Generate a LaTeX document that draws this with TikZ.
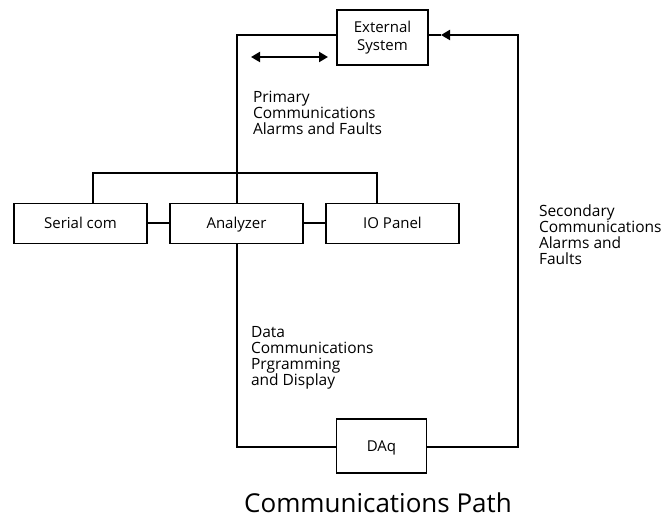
\documentclass[tikz,border=0pt]{standalone}
\usepackage{fontspec}
\setmainfont{Open Sans}
\usetikzlibrary{arrows.meta}
\begin{document}
\begin{tikzpicture}[x=1pt,y=-1pt,
  line width=2pt, line join=miter,
  box/.style={draw, line width=1.8pt, minimum width=#1, inner sep=0pt, font=\fontsize{15}{18}\selectfont},
  one/.style={text height=10.7pt, text depth=0pt},
  lbl/.style={anchor=north west, align=left, inner sep=0pt, font=\fontsize{15.5}{16}\selectfont},
  tip/.style={-{Triangle[length=9pt,width=10pt]}}]
\useasboundingbox (0,0) rectangle (663,518);
\node[box=91pt, minimum height=55pt, align=center] (ext) at (382.5,37.5) {External\\System};
\node[box=133pt, minimum height=40pt, one] (ser) at (80.5,223.5) {Serial com};
\node[box=133pt, minimum height=40pt, one] (ana) at (236.5,223.5) {Analyzer};
\node[box=133pt, minimum height=40pt, one] (iop) at (392.5,223.5) {IO Panel};
\node[box=90pt, minimum height=54pt, one] (daq) at (381.5,446) {DAq};
\coordinate (tl) at (236.5,35);
\coordinate (tr) at (518,35);
\coordinate (br) at (518,447);
\coordinate (bl) at (236.5,447);
\coordinate (busl) at (93,173);
\coordinate (busr) at (377,173);
\coordinate (am) at (441,35);
\coordinate (da) at (251,57);
\coordinate (db) at (328,57);
\draw (ext.west |- tl) -- (tl) -- (ana.north);
\draw (ser.north -| busl) -- (busl) -- (busr) -- (iop.north -| busr);
\draw (ser.east) -- (ana.west);
\draw (ana.east) -- (iop.west);
\draw (ana.south) -- (bl) -- (daq.west |- bl);
\draw[tip] (daq.east |- br) -- (br) -- (tr) -- (am);
\draw (am) -- (ext.east |- tr);
\draw[{Triangle[length=9pt,width=10pt]}-{Triangle[length=9pt,width=10pt]}] (da) -- (db);
\node[lbl] (prim) at (252,90) {Primary\\Communications\\Alarms and Faults};
\node[lbl] (data) at (250,325) {Data\\Communications\\Prgramming\\and Display};
\node[lbl] (sec) at (538,204) {Secondary\\Communications\\Alarms and\\Faults};
\node[font=\fontsize{26}{30}\selectfont, inner sep=0pt] (title) at (378,503) {Communications Path};
\end{tikzpicture}
\end{document}
